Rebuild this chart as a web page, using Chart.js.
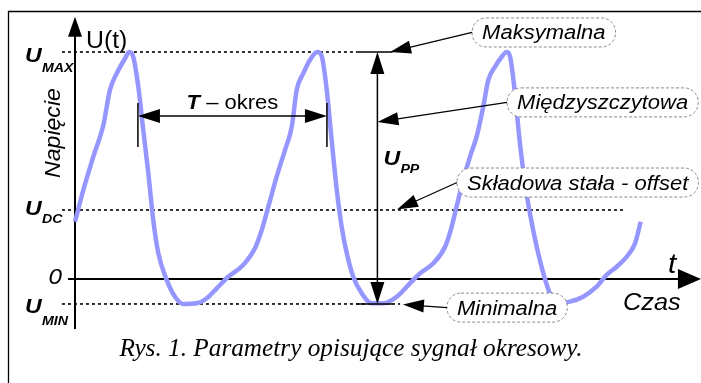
<!DOCTYPE html>
<html><head><meta charset="utf-8">
<script src="https://cdn.jsdelivr.net/npm/chart.js@4"></script>
<style>html,body{margin:0;padding:0;background:#fff;overflow:hidden}canvas{display:block}</style>
</head><body>
<canvas id="c" width="701" height="383"></canvas>
<script>
// ---- data ----
const time = [0,0.44,0.97,1.5,1.85,2.21,2.65,2.87,3.08,3.35,3.61,3.88,4.14,4.41,4.85,5.29,5.73,6.44,6.97,7.5,8.11,8.9,9.52,9.88,10.23,10.67,11.11,11.47,11.73,12.08,12.43,12.82,13.05,13.32,13.58,13.85,14.11,14.38,14.72,15.17,15.7,16.31,17.02,17.72,18.25,18.96,19.58,19.93,20.19,20.54,20.9,21.25,21.6,21.87,22.22,22.58,22.84,23.02,23.28,23.54,23.81,24.07,24.43,24.78,25.13,25.66,26.19,26.89,27.6,28.13,28.66,29.19,29.63,29.93];
const voltage = [2.52,3.92,5.39,6.78,8.33,9.06,9.72,10,9.79,8.47,6.56,4.66,2.6,1.13,-0.04,-0.78,-1.1,-1.07,-0.85,-0.41,0.1,0.62,1.35,2.16,3.19,4.51,5.68,6.71,8.33,9.06,9.65,10,9.82,8.33,6.12,3.92,2.3,1.13,0.1,-0.63,-1.07,-1.07,-0.78,-0.19,0.25,0.69,1.42,2.3,3.19,4.36,5.39,6.27,7.59,8.77,9.35,9.79,10,9.79,8.18,5.98,4.22,2.89,1.42,0.25,-0.63,-1.07,-1,-0.78,-0.34,0.18,0.54,0.98,1.57,2.52];
const levelSubs = ['MAX','DC','','MIN'];
const levelValues = [10, 3.04, 0, -1.1];
const period = 10;
const calloutLabels = ['Maksymalna','Międzyszczytowa','Składowa stała - offset','Minimalna'];
const yAxisLabel = 'U(t)', yAxisTitle = 'Napięcie', xAxisLabel = 't', xAxisTitle = 'Czas';
const periodLabel = ['T',' – okres'];
const ppSub = 'PP';
const caption = 'Rys. 1. Parametry opisujące sygnał okresowy.';

// ---- annotation layout (data coordinates) ----
const annot = {
  levelFrom: -0.69,
  levelTo: [14.92, 29.0, null, 17.2],
  uOff: [9.5, 5, 5, 9], subOff: [20, 13, 0, 21],
  ppX: 16, ppTickFrom: 14.9, ppTickTo: 16.8,
  tY: 7.18, tFrom: 3.33, tickLo: 5.81, tickHi: 7.75,
  calloutLeft: [21.01, 22.86, 20.21, 19.68],
  calloutY: [10.86, 7.78, 4.25, -1.26],
  calloutTipX: [16.67, 16, 17.04, 17.35],
  calloutTipY: [10, 6.92, 3.06, -1.12],
  yAxisFrom: -2.2, yAxisTo: 11.55, xAxisFrom: -0.37, xAxisTo: 33.12
};

const SANS = '"Liberation Sans", Arial, sans-serif';
const SERIF = '"Liberation Serif", "Times New Roman", serif';
const SX = 1.1;

function txt(ctx, s, x, y, font, align, sx) {
  ctx.save(); ctx.font = font; ctx.textAlign = 'left'; ctx.textBaseline = 'alphabetic';
  const w = ctx.measureText(s).width * sx;
  const x0 = align === 'center' ? x - w / 2 : align === 'right' ? x - w : x;
  ctx.translate(x0, y); ctx.scale(sx, 1); ctx.fillStyle = '#000'; ctx.fillText(s, 0, 0); ctx.restore();
  return w;
}
function head(ctx, x1, y1, x2, y2, len, hw) {
  const a = Math.atan2(y2 - y1, x2 - x1), c = Math.cos(a), s = Math.sin(a);
  ctx.beginPath(); ctx.moveTo(x2, y2);
  ctx.lineTo(x2 - len * c + hw * s, y2 - len * s - hw * c);
  ctx.lineTo(x2 - len * c - hw * s, y2 - len * s + hw * c);
  ctx.closePath(); ctx.fill();
}
function arrow(ctx, x1, y1, x2, y2, len, hw, lw, both) {
  const a = Math.atan2(y2 - y1, x2 - x1), c = Math.cos(a), s = Math.sin(a);
  ctx.lineWidth = lw; ctx.setLineDash([]);
  ctx.beginPath();
  ctx.moveTo(both ? x1 + (len - 2) * c : x1, both ? y1 + (len - 2) * s : y1);
  ctx.lineTo(x2 - (len - 2) * c, y2 - (len - 2) * s); ctx.stroke();
  head(ctx, x1, y1, x2, y2, len, hw);
  if (both) head(ctx, x2, y2, x1, y1, len, hw);
}
function line(ctx, x1, y1, x2, y2, lw, dash) {
  ctx.lineWidth = lw; ctx.setLineDash(dash || []);
  ctx.beginPath(); ctx.moveTo(x1, y1); ctx.lineTo(x2, y2); ctx.stroke(); ctx.setLineDash([]);
}
function pill(ctx, x, y, w, h, r) {
  ctx.beginPath();
  ctx.moveTo(x + r, y); ctx.lineTo(x + w - r, y);
  ctx.arcTo(x + w, y, x + w, y + r, r); ctx.arcTo(x + w, y + h, x + w - r, y + h, r);
  ctx.lineTo(x + r, y + h);
  ctx.arcTo(x, y + h, x, y + h - r, r); ctx.arcTo(x, y, x + r, y, r);
  ctx.closePath();
}

const under = {
  id: 'under',
  beforeDatasetsDraw(chart) {
    const ctx = chart.ctx, X = v => chart.scales.x.getPixelForValue(v), Y = v => chart.scales.y.getPixelForValue(v);
    ctx.save(); ctx.strokeStyle = '#000'; ctx.fillStyle = '#000';
    // figure frame
    ctx.lineWidth = 1.3; ctx.beginPath(); ctx.moveTo(8.5, chart.height); ctx.lineTo(8.5, 11.5); ctx.lineTo(chart.width, 11.5); ctx.stroke();
    // level lines
    levelValues.forEach((v, i) => {
      if (annot.levelTo[i] === null) return;
      line(ctx, X(annot.levelFrom), Y(v), X(annot.levelTo[i]), Y(v), 1.6, [3, 3]);
    });
    // axes
    line(ctx, X(0), Y(annot.yAxisFrom), X(0), Y(annot.yAxisTo) + 15, 2);
    head(ctx, X(0), Y(annot.yAxisFrom), X(0), Y(annot.yAxisTo), 20, 7);
    line(ctx, X(annot.xAxisFrom), Y(0), X(annot.xAxisTo) - 18, Y(0), 2);
    head(ctx, X(annot.xAxisFrom), Y(0), X(annot.xAxisTo), Y(0), 23, 10);
    ctx.restore();
  },
  afterDatasetsDraw(chart) {
    const ctx = chart.ctx, X = v => chart.scales.x.getPixelForValue(v), Y = v => chart.scales.y.getPixelForValue(v);
    ctx.save(); ctx.strokeStyle = '#000'; ctx.fillStyle = '#000';
    const x0 = X(0);
    // level labels
    levelValues.forEach((v, i) => {
      const yp = Y(v);
      if (levelSubs[i] === '') {
        txt(ctx, '0', x0 - 13, yp + annot.uOff[i], 'italic 22px ' + SANS, 'right', SX);
      } else {
        txt(ctx, 'U', x0 - 50, yp + annot.uOff[i], 'italic bold 21px ' + SANS, 'left', SX);
        txt(ctx, levelSubs[i], x0 - 33, yp + annot.subOff[i], 'italic bold 13.5px ' + SANS, 'left', 1.05);
      }
    });
    // axis labels
    txt(ctx, yAxisLabel, x0 + 11, Y(levelValues[0]) - 4, '23px ' + SANS, 'left', 1.08);
    ctx.save(); ctx.translate(x0 - 21, Y(6.43)); ctx.rotate(-Math.PI / 2);
    ctx.font = 'italic 22px ' + SANS; ctx.textAlign = 'center'; ctx.textBaseline = 'middle'; ctx.scale(1.05, 1);
    ctx.fillText(yAxisTitle, 0, 0); ctx.restore();
    txt(ctx, xAxisLabel, X(31.37), Y(0) - 6, 'italic 27px ' + SANS, 'left', SX);
    txt(ctx, xAxisTitle, X(29.0), Y(0) + 31, 'italic 23px ' + SANS, 'left', SX);
    // period arrow
    const ta = X(annot.tFrom), tb = X(annot.tFrom + period), ty = Y(annot.tY);
    arrow(ctx, ta, ty, tb, ty, 22, 7, 1.5, true);
    line(ctx, ta, Y(annot.tickLo), ta, Y(annot.tickHi), 1.5);
    line(ctx, tb, Y(annot.tickLo), tb, Y(annot.tickHi), 1.5);
    ctx.save(); ctx.font = 'italic bold 20px ' + SANS;
    const w1 = ctx.measureText(periodLabel[0]).width * SX; ctx.font = '20px ' + SANS;
    const w2 = ctx.measureText(periodLabel[1]).width * SX; ctx.restore();
    const tl = (ta + tb) / 2 - (w1 + w2) / 2;
    txt(ctx, periodLabel[0], tl, ty - 7, 'italic bold 20px ' + SANS, 'left', SX);
    txt(ctx, periodLabel[1], tl + w1, ty - 7, '20px ' + SANS, 'left', SX);
    // peak-to-peak arrow
    const px = X(annot.ppX);
    line(ctx, X(annot.ppTickFrom), Y(levelValues[0]), X(annot.ppTickTo), Y(levelValues[0]), 1.6);
    line(ctx, X(annot.ppTickFrom), Y(levelValues[3]), X(annot.ppTickTo), Y(levelValues[3]), 1.6);
    arrow(ctx, px, Y(levelValues[0]), px, Y(levelValues[3]), 22, 7, 1.5, true);
    txt(ctx, 'U', px + 6, Y(5.02), 'italic bold 21px ' + SANS, 'left', SX);
    txt(ctx, ppSub, px + 23, Y(5.02) + 8, 'italic bold 13.5px ' + SANS, 'left', 1.05);
    // callouts
    calloutLabels.forEach((s, i) => {
      const font = 'italic 20px ' + SANS;
      ctx.font = font;
      const tw = ctx.measureText(s).width * SX;
      const bx = X(annot.calloutLeft[i]), cy = Y(annot.calloutY[i]);
      const bw = tw + 20, bh = 29;
      ctx.fillStyle = '#fff'; ctx.strokeStyle = '#8a8a8a'; ctx.lineWidth = 1; ctx.setLineDash([3, 2]);
      pill(ctx, bx, cy - bh / 2, bw, bh, 14); ctx.fill(); ctx.stroke(); ctx.setLineDash([]);
      ctx.fillStyle = '#000'; ctx.strokeStyle = '#000';
      txt(ctx, s, bx + 10, cy + 7, font, 'left', SX);
      arrow(ctx, bx, cy, X(annot.calloutTipX[i]), Y(annot.calloutTipY[i]), 21, 6.5, 1.3, false);
    });
    // caption
    ctx.font = 'italic 25px ' + SERIF;
    const cw = ctx.measureText(caption).width;
    const csx = 463 / cw;
    txt(ctx, caption, X(14.6), Y(levelValues[0]) + 304, 'italic 25px ' + SERIF, 'center', csx);
    ctx.restore();
  }
};

new Chart(document.getElementById('c'), {
  type: 'line',
  data: { datasets: [{
    data: time.map((t, i) => ({ x: t, y: voltage[i] })),
    borderColor: 'rgb(150,150,255)', borderWidth: 4.5, pointRadius: 0,
    cubicInterpolationMode: 'monotone', fill: false, clip: false
  }] },
  options: {
    responsive: false, animation: false, devicePixelRatio: 1,
    layout: { padding: { left: 75, right: 21.2, top: 29.3, bottom: 58.6 } },
    plugins: { legend: { display: false }, tooltip: { enabled: false }, title: { display: false } },
    scales: {
      x: { type: 'linear', min: 0, max: 32, display: false },
      y: { type: 'linear', min: -2, max: 11, display: false }
    }
  },
  plugins: [under]
});
</script>
</body></html>
